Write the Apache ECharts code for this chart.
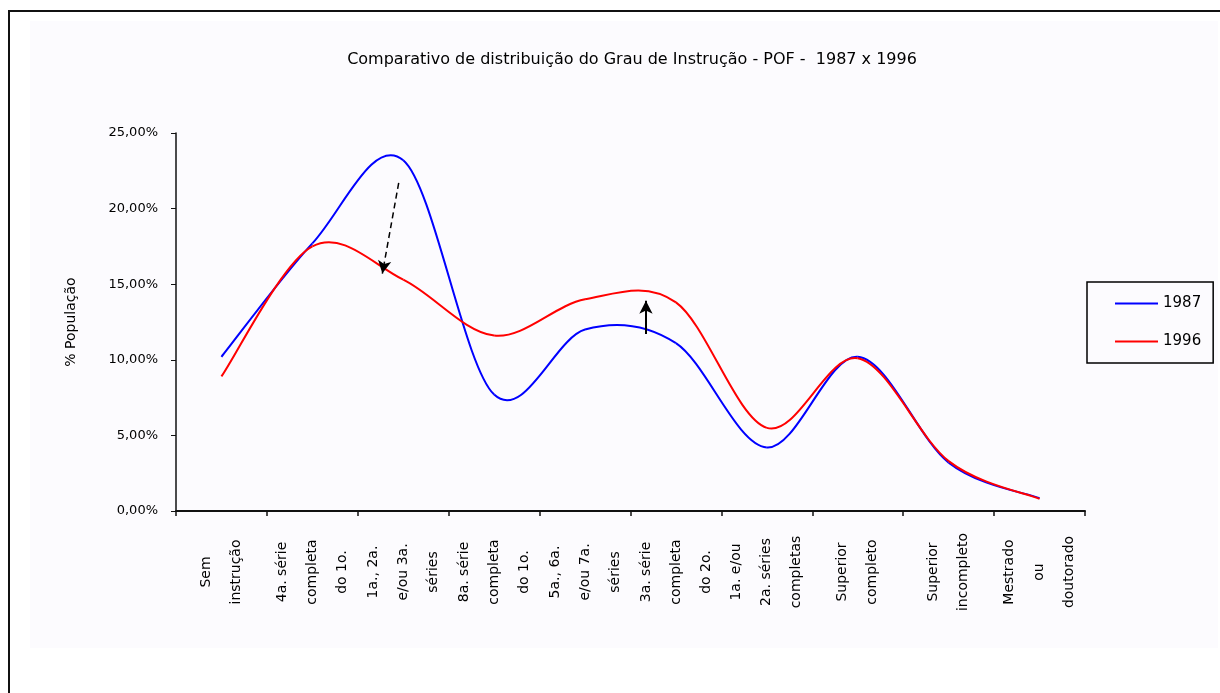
<!DOCTYPE html>
<html>
<head>
<meta charset="utf-8">
<title>Grau de Instrução - POF 1987 x 1996</title>
<script src="https://cdn.jsdelivr.net/npm/echarts@6/dist/echarts.min.js"></script>
<style>
    html, body { margin: 0; padding: 0; background: #fff; }
    #grauInstrucao { width: 1220px; height: 693px; }
</style>
</head>
<body>
<div id="grauInstrucao"></div>
<script>
// categorias (quebra de linha como no gráfico original)
var categorias = [
    'Sem\ninstrução',
    '4a. série\ncompleta\ndo 1o.',
    '1a., 2a.\ne/ou 3a.\nséries',
    '8a. série\ncompleta\ndo 1o.',
    '5a., 6a.\ne/ou 7a.\nséries',
    '3a. série\ncompleta\ndo 2o.',
    '1a. e/ou\n2a. séries\ncompletas',
    'Superior\ncompleto',
    'Superior\nincompleto',
    'Mestrado\nou\ndoutorado'
];
// % da população
var pof1987 = [10.2, 17.7, 23.2, 7.7, 12.0, 11.1, 4.2, 10.2, 3.2, 0.85];
var pof1996 = [8.9, 17.5, 15.3, 11.6, 14.0, 13.8, 5.5, 10.1, 3.3, 0.8];
var yTicks = [0, 5, 10, 15, 20, 25];
// setas: [indice categoria, valor] -> [indice categoria, valor]
var setaQueda = [[1.95, 21.7], [1.77, 15.7]];
var setaAlta = [[4.67, 11.7], [4.67, 13.9]];

var valoresPorAno = {'1987': pof1987, '1996': pof1996};
var fonte = 'DejaVu Sans';

// curva suavizada tipo Excel (Catmull-Rom), um trecho por ponto
function curvaSuave(params, api) {
    var vals = valoresPorAno[params.seriesName];
    var i = params.dataIndex;
    if (i >= vals.length - 1) return;
    var p = function (k) {
        k = Math.max(0, Math.min(vals.length - 1, k));
        return api.coord([k, vals[k]]);
    };
    var p0 = p(i - 1), p1 = p(i), p2 = p(i + 1), p3 = p(i + 2);
    return {
        type: 'bezierCurve',
        shape: {
            x1: p1[0], y1: p1[1],
            x2: p2[0], y2: p2[1],
            cpx1: p1[0] + (p2[0] - p0[0]) / 6,
            cpy1: p1[1] + (p2[1] - p0[1]) / 6,
            cpx2: p2[0] - (p3[0] - p1[0]) / 6,
            cpy2: p2[1] - (p3[1] - p1[1]) / 6
        },
        style: {fill: 'none', stroke: api.visual('color'), lineWidth: 2}
    };
}

function pares(vals) {
    return vals.map(function (v, i) { return [i, v]; });
}

var myChart = echarts.init(document.getElementById('grauInstrucao'));
var option = {
    backgroundColor: '#ffffff',
    animation: false,
    title: {
        text: 'Comparativo de distribuição do Grau de Instrução - POF -  1987 x 1996',
        left: 627,
        textAlign: 'center',
        top: 47,
        textStyle: {
            fontFamily: fonte,
            fontSize: 16,
            fontWeight: 'normal',
            color: '#000'
        }
    },
    graphic: [
        {
            type: 'rect',
            z: -10,
            shape: {x: 30, y: 21, width: 1188, height: 627},
            style: {fill: '#fcfbfe'}
        },
        {
            type: 'rect',
            z: -9,
            shape: {x: 9, y: 11, width: 1240, height: 720},
            style: {fill: 'none', stroke: '#111', lineWidth: 2}
        }
    ],
    legend: {
        orient: 'vertical',
        left: 1087,
        top: 282,
        data: ['1987', '1996'],
        icon: 'rect',
        itemWidth: 43,
        itemHeight: 2,
        itemGap: 23,
        padding: [14, 12, 14, 28],
        borderColor: '#000',
        borderWidth: 1.5,
        textStyle: {
            fontFamily: fonte,
            fontSize: 15,
            color: '#000'
        }
    },
    grid: {
        left: 176,
        right: 135,
        top: 133,
        bottom: 182
    },
    xAxis: [
        {
            type: 'category',
            data: categorias,
            boundaryGap: true,
            axisLine: {lineStyle: {color: '#111', width: 2}},
            axisTick: {show: true, length: 5, lineStyle: {color: '#111', width: 1.5}},
            axisLabel: {
                interval: 0,
                rotate: 90,
                align: 'center',
                verticalAlign: 'middle',
                margin: 61,
                lineHeight: 30,
                fontFamily: fonte,
                fontSize: 14,
                color: '#000'
            },
            splitLine: {show: false}
        },
        {
            // eixo auxiliar para posicionar as setas entre as categorias
            type: 'value',
            show: false,
            min: -0.5,
            max: categorias.length - 0.5
        }
    ],
    yAxis: {
        type: 'value',
        min: yTicks[0],
        max: yTicks[yTicks.length - 1],
        interval: yTicks[1] - yTicks[0],
        name: '% População',
        nameLocation: 'middle',
        nameRotate: 90,
        nameGap: 98,
        nameTextStyle: {
            fontFamily: fonte,
            fontSize: 14,
            color: '#000'
        },
        axisLine: {show: true, onZero: false, lineStyle: {color: '#111', width: 1.5}},
        axisTick: {show: true, length: 5, lineStyle: {color: '#111'}},
        axisLabel: {
            margin: 18,
            fontFamily: fonte,
            fontSize: 13,
            color: '#000',
            formatter: function (v) {
                return v.toFixed(2).replace('.', ',') + '%';
            }
        },
        splitLine: {show: false}
    },
    series: [
        {
            name: '1987',
            type: 'custom',
            data: pares(pof1987),
            encode: {x: 0, y: 1},
            renderItem: curvaSuave,
            itemStyle: {color: '#0000ff'},
            silent: true
        },
        {
            name: '1996',
            type: 'custom',
            data: pares(pof1996),
            encode: {x: 0, y: 1},
            renderItem: curvaSuave,
            itemStyle: {color: '#ff0000'},
            silent: true
        },
        {
            name: 'setas',
            type: 'line',
            xAxisIndex: 1,
            data: [],
            symbol: 'none',
            silent: true,
            markLine: {
                silent: true,
                symbol: ['none', 'arrow'],
                symbolSize: [10, 13],
                label: {show: false},
                emphasis: {disabled: true},
                data: [
                    [
                        {coord: setaQueda[0], lineStyle: {color: '#000', width: 1.5, type: [6, 4]}},
                        {coord: setaQueda[1]}
                    ],
                    [
                        {coord: setaAlta[0], lineStyle: {color: '#000', width: 2, type: 'solid'}},
                        {coord: setaAlta[1]}
                    ]
                ]
            }
        }
    ]
};
myChart.setOption(option);
</script>
</body>
</html>
